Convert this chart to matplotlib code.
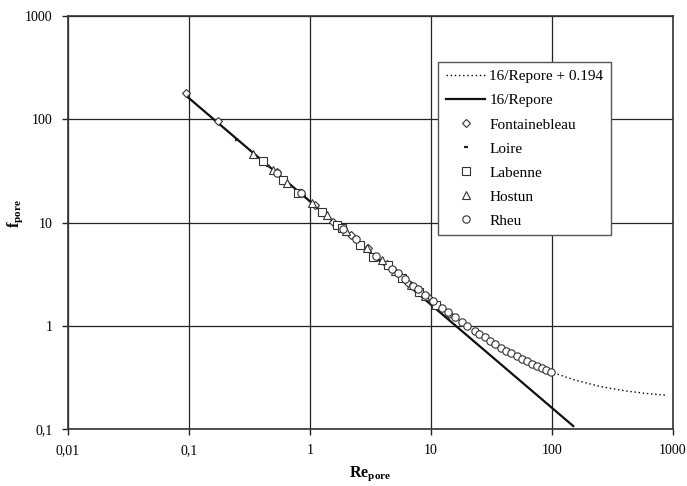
import matplotlib
matplotlib.use("Agg")
import matplotlib.pyplot as plt
import numpy as np
from matplotlib.ticker import FixedLocator, FixedFormatter, NullLocator

plt.rcParams['font.family'] = ['Liberation Serif', 'DejaVu Serif']
plt.rcParams['mathtext.fontset'] = 'custom'
plt.rcParams['mathtext.rm'] = 'Liberation Serif'
plt.rcParams['mathtext.bf'] = 'Liberation Serif:bold'

model_re = [0.094, 0.15, 0.25, 0.4, 0.6, 1.0, 1.5, 2.5, 4, 6, 10, 15, 25, 40, 60, 100, 150, 250, 400, 600, 890]
model_f_offset = [170.4, 106.9, 64.2, 40.2, 26.9, 16.19, 10.86, 6.59, 4.19, 2.86, 1.79, 1.26, 0.834, 0.594, 0.461, 0.354, 0.301, 0.258, 0.234, 0.221, 0.212]
lin_re = [0.094, 150]
lin_f = [170.2, 0.1067]

# Measurements
fontainebleau_re = [0.094, 0.174, 0.53, 1.1, 1.55, 2.2, 3.0, 4.3, 6.5, 9.5, 14]
fontainebleau_f = [179, 96, 31, 14.8, 10.2, 7.5, 5.6, 4.0, 2.6, 1.9, 1.3]
loire_re = [0.249, 0.45, 0.9, 1.7, 3.6, 7.5]
loire_f = [63, 35, 18, 9.6, 4.6, 2.3]
labenne_re = [0.41, 0.6, 0.79, 1.26, 1.67, 1.83, 2.6, 3.3, 4.4, 5.8, 8.0, 11]
labenne_f = [39, 26, 19.5, 12.6, 9.4, 8.8, 6.0, 4.6, 3.9, 2.9, 2.1, 1.6]
hostun_re = [0.338, 0.494, 0.65, 1.04, 1.38, 2.0, 2.95, 3.9, 5.0, 6.8, 9.0]
hostun_f = [46, 32, 24, 15.5, 11.9, 8.2, 5.7, 4.3, 3.4, 2.5, 1.95]
rheu_re = [0.53, 0.84, 1.88, 2.4, 3.5, 4.8, 5.3, 6.1, 7.1, 7.8, 8.9, 10.4, 12.4, 13.9, 15.8, 18, 20, 23,
           25, 28, 31, 34, 38, 42, 46, 51, 56, 62, 68, 75, 82, 90, 98]
rheu_f = [30.4, 19.2, 8.7, 6.86, 4.77, 3.53, 3.21, 2.82, 2.45, 2.25, 1.99, 1.73, 1.48, 1.35, 1.21, 1.08, 0.99, 0.89,
          0.83, 0.77, 0.71, 0.665, 0.615, 0.575, 0.54, 0.51, 0.48, 0.452, 0.43, 0.407, 0.389, 0.372, 0.357]

x_ticks = [0.01, 0.1, 1, 10, 100, 1000]
x_labels = ['0,01', '0,1', '1', '10', '100', '1000']
y_ticks = [0.1, 1, 10, 100, 1000]
y_labels = ['0,1', '1', '10', '100', '1000']

fig = plt.figure(figsize=(6.87, 4.86), dpi=100)
ax = fig.add_axes([68/687, 1-429/486, 605/687, 413/486])
ax.set_xscale('log')
ax.set_yscale('log')
ax.set_xlim(0.01, 1000)
ax.set_ylim(0.1, 1000)

ax.plot(model_re, model_f_offset, color='black', lw=1.0, ls=(0, (1.0, 2.0)), label='16/Repore + 0.194', zorder=2)
ax.plot(lin_re, lin_f, color='#111111', lw=1.6, label='16/Repore', zorder=2)

mk = dict(ls='none', mfc='white', mec='#333333', mew=0.8, zorder=3)
ax.plot(fontainebleau_re, fontainebleau_f, marker='D', ms=3.6, label='Fontainebleau', **mk)
ax.plot(loire_re, loire_f, marker='_', ms=3.5, ls='none', color='#222222', mew=1.6, label='Loire', zorder=3)
ax.plot(labenne_re, labenne_f, marker='s', ms=5.3, label='Labenne', **mk)
ax.plot(hostun_re, hostun_f, marker='^', ms=5.8, label='Hostun', **mk)
ax.plot(rheu_re, rheu_f, marker='o', ms=5.3, label='Rheu', **mk)

ax.xaxis.set_major_locator(FixedLocator(x_ticks))
ax.xaxis.set_major_formatter(FixedFormatter(x_labels))
ax.yaxis.set_major_locator(FixedLocator(y_ticks))
ax.yaxis.set_major_formatter(FixedFormatter(y_labels))
ax.xaxis.set_minor_locator(NullLocator())
ax.yaxis.set_minor_locator(NullLocator())
ax.tick_params(axis='both', which='major', direction='out', length=4, width=1, labelsize=10, pad=7, color='#222222')
ax.grid(True, which='major', color='#222222', lw=0.9)
ax.set_axisbelow(True)
for s in ax.spines.values():
    s.set_color('#333333')
    s.set_linewidth(1.2)

fig.text(370/687, 1-474/486, r'$\mathbf{Re}_{\mathbf{pore}}$', fontsize=11.5, ha='center', va='center')
fig.text(15/687, 1-214/486, r'$\mathbf{f}_{\mathbf{pore}}$', fontsize=11.5, ha='center', va='center', rotation=90)

leg = ax.legend(loc='upper left', bbox_to_anchor=(370/605, 367/413), borderaxespad=0,
                fancybox=False, framealpha=1, edgecolor='#555555', fontsize=11,
                handlelength=2.6, labelspacing=0.68, borderpad=0.5, handletextpad=0.25)
leg.get_frame().set_linewidth(1.0)

fig.savefig('out.png', dpi=100)
